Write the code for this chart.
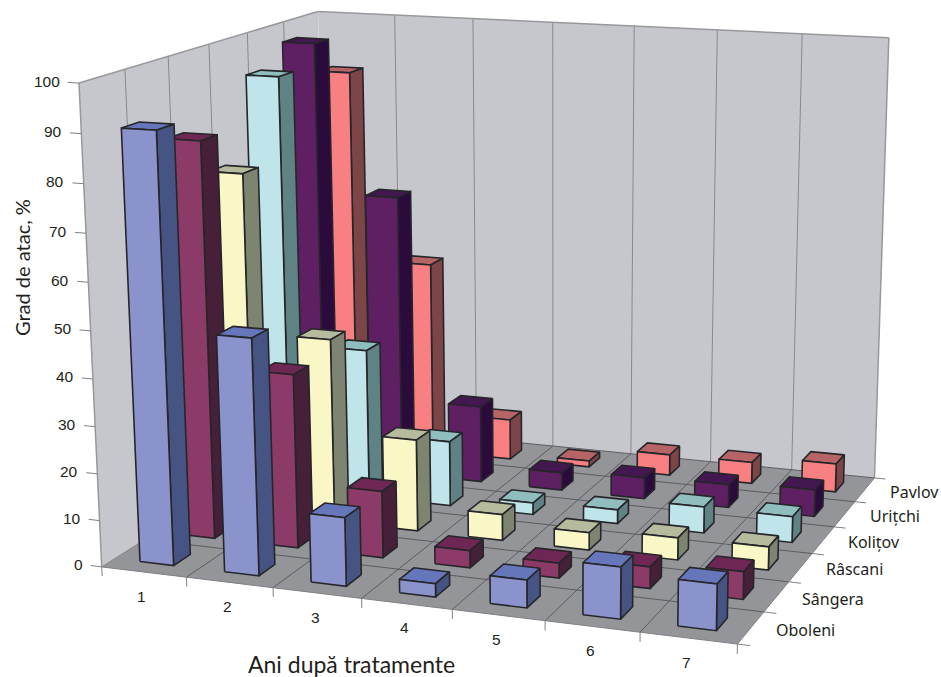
import numpy as np, plotly.graph_objects as go

categories = ["1", "2", "3", "4", "5", "6", "7"]
series_names = ["Oboleni", "Sângera", "Râscani", "Kolițov", "Urițchi", "Pavlov"]
z_ticks = [0, 10, 20, 30, 40, 50, 60, 70, 80, 90, 100]
oboleni = [90.5, 49.9, 14.5, 2.8, 5.8, 10.7, 9.5]
sangera = [85.2, 37.6, 14.4, 3.7, 3.2, 4.6, 5.8]
rascani = [75.0, 40.5, 20.2, 5.7, 3.8, 4.8, 5.0]
kolitov = [92.8, 33.5, 14.6, 2.6, 3.1, 5.8, 5.7]
uritchi = [97.4, 64.0, 17.5, 4.0, 4.8, 5.2, 6.0]
pavlov = [88.2, 44.7, 9.4, 1.4, 4.8, 4.9, 6.5]
values = [oboleni, sangera, rascani, kolitov, uritchi, pavlov]

# (front, top, side) shade of each series
shades = [("#8a93cb", "#6676bb", "#465484"), ("#8c3a68", "#6e2754", "#452038"),
          ("#f8f7c5", "#b6bb9d", "#7d8570"), ("#bfe5ea", "#90bdbd", "#5f8285"),
          ("#5f2063", "#43174f", "#2b0a3c"), ("#f88082", "#b66466", "#7c4547")]

# Perspective camera of the original 3-D column chart: every mark below is computed from
# the data through this matrix and then placed by Plotly's Cartesian axes.
CAMERA = np.array([[1.229659, 0.399933, -0.008237, -0.736500],
                   [0.106824, -0.256035, -0.943156, 0.453811],
                   [-0.078014, 0.182028, -0.047671, 1.000000]])
NX, NY = len(categories), len(series_names)

def project(pts):
    pts = np.asarray(pts, float) / [NX, NY, 100]
    h = np.c_[pts, np.ones(len(pts))] @ CAMERA.T
    return 470 + 500 * h[:, 0] / h[:, 2], 340 + 500 * h[:, 1] / h[:, 2]

traces = []
def poly(pts, fill, lw=0, lc="rgba(0,0,0,0)"):
    x, y = project(pts)
    traces.append(go.Scatter(x=list(x) + [x[0]], y=list(y) + [y[0]], mode="lines", fill="toself", fillcolor=fill,
                             line=dict(width=lw, color=lc), hoverinfo="skip", showlegend=False))
def segs(pairs, lw, lc):
    xs, ys = [], []
    for a, b in pairs:
        x, y = project([a, b]); xs += [x[0], x[1], None]; ys += [y[0], y[1], None]
    traces.append(go.Scatter(x=xs, y=ys, mode="lines", line=dict(width=lw, color=lc), hoverinfo="skip", showlegend=False))

WALL, FLOOR = "#c6c7cc", "#949599"
poly([(0, 0, 0), (0, NY, 0), (0, NY, 100), (0, 0, 100)], WALL)
poly([(0, NY, 0), (NX, NY, 0), (NX, NY, 100), (0, NY, 100)], WALL)
poly([(0, 0, 0), (NX, 0, 0), (NX, NY, 0), (0, NY, 0)], FLOOR)
segs([((i, NY, 0), (i, NY, 100)) for i in range(1, NX)] + [((0, j, 0), (0, j, 100)) for j in range(1, NY)], 1, "#88898c")
segs([((0, 0, 100), (0, NY, 100)), ((0, NY, 100), (NX, NY, 100)), ((NX, NY, 100), (NX, NY, 0)), ((0, 0, 0), (0, 0, 100))], 1.5, "#97989b")
segs([((i, 0, 0), (i, NY, 0)) for i in range(1, NX)] + [((0, j, 0), (NX, j, 0)) for j in range(1, NY)] + [((0, NY, 0), (NX, NY, 0))], 1, "#5c5d60")
segs([((-0.13, 0, z), (0, 0, z)) for z in z_ticks] + [((i, 0, 0), (i, 0, -2)) for i in range(NX + 1)]
     + [((NX, j, 0), (NX + 0.13, j, 0)) for j in range(NY + 1)] + [((0, 0, 0), (NX, 0, 0)), ((NX, 0, 0), (NX, NY, 0)), ((0, 0, 0), (0, NY, 0))], 1, "#808184")

W0, W1 = 0.3, 0.7
for j in range(NY - 1, -1, -1):
    front, top, side = shades[j]
    for i, v in enumerate(values[j]):
        x0, x1, y0, y1 = i + W0, i + W1, j + W0, j + W1
        poly([(x0, y0, v), (x1, y0, v), (x1, y1, v), (x0, y1, v)], top, 1.6, "#26262a")
        poly([(x1, y0, 0), (x1, y1, 0), (x1, y1, v), (x1, y0, v)], side, 1.6, "#26262a")
        poly([(x0, y0, 0), (x1, y0, 0), (x1, y0, v), (x0, y0, v)], front, 1.6, "#26262a")

ann = []
def label(px, py, text, size, family, xanchor="center", angle=0, color="#231f20"):
    ann.append(dict(x=px, y=py, xref="x", yref="y", text=text, showarrow=False, xanchor=xanchor, yanchor="middle",
                    textangle=angle, font=dict(size=size, family=family, color=color)))
AR, NS = "Liberation Sans", "Noto Sans"
for z in z_ticks:
    x, y = project([(-0.13, 0, z)])
    label(x[0] - 6, y[0] - 1, str(z), 15.5, AR, "right")
for i, c in enumerate(categories):
    x, y = project([(i + 0.5, 0, 0)])
    label(x[0] - 2, y[0] + 24, c, 15.5, AR)
for j, s in enumerate(series_names):
    x, y = project([(NX, j + 0.5, 0)])
    label(x[0] + 23, y[0] + 2, s, 16, NS, "left")
label(22, 268, "Grad de atac, %", 20, "Lato", angle=-90)
label(351, 664, "Ani după tratamente", 23, "Lato")

fig = go.Figure(traces)
fig.update_layout(width=941, height=677, margin=dict(l=0, r=0, t=0, b=0), paper_bgcolor="white", plot_bgcolor="white", showlegend=False,
                  xaxis=dict(visible=False, range=[0, 941]), yaxis=dict(visible=False, range=[677, 0]), annotations=ann)
fig.write_html("out.html", config=dict(displayModeBar=False), post_script="document.body.style.margin='0';")
